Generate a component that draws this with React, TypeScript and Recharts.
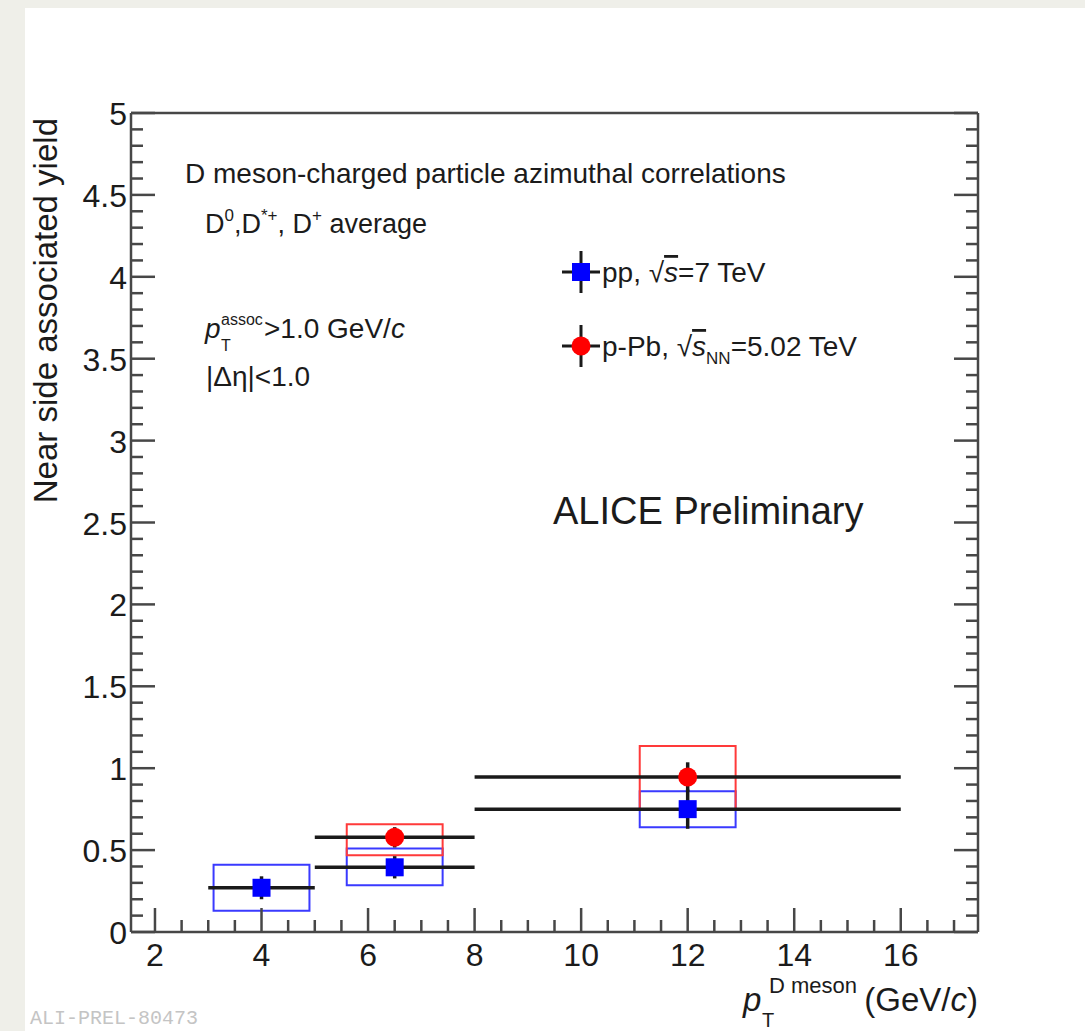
import React from "react";
import {
  ScatterChart,
  Scatter,
  XAxis,
  YAxis,
  ErrorBar,
  ReferenceArea,
  Legend,
} from "recharts";

const SERIES_NAMES = ["pp", "p-Pb"];

// pp, sqrt(s) = 7 TeV
const PP_PT = [4, 6.5, 12];
const PP_PT_HALF = [1, 1.5, 4];
const PP_YIELD = [0.27, 0.395, 0.75];
const PP_STAT = [0.07, 0.068, 0.12];
const PP_SYS_LOW = [0.14, 0.11, 0.11];
const PP_SYS_HIGH = [0.14, 0.115, 0.11];

// p-Pb, sqrt(sNN) = 5.02 TeV
const PPB_PT = [6.5, 12];
const PPB_PT_HALF = [1.5, 4];
const PPB_YIELD = [0.578, 0.946];
const PPB_STAT = [0.062, 0.09];
const PPB_SYS_LOW = [0.11, 0.195];
const PPB_SYS_HIGH = [0.08, 0.19];

const X_MAJOR_TICKS = [2, 4, 6, 8, 10, 12, 14, 16];
const Y_MAJOR_TICKS = [0, 0.5, 1, 1.5, 2, 2.5, 3, 3.5, 4, 4.5, 5];
const X_DOMAIN: [number, number] = [1.55, 17.45];
const Y_DOMAIN: [number, number] = [0, 5];

const X_MINOR_TICKS: number[] = [];
for (let i = 4; i <= 34; i++) X_MINOR_TICKS.push(i / 2);
const Y_MINOR_TICKS: number[] = [];
for (let i = 0; i <= 50; i++) Y_MINOR_TICKS.push(i / 10);

const SYS_BOX_HALF = 0.9;

const FONT = '"Liberation Sans", Arial, Helvetica, sans-serif';
const TEXT = "#1b1b1b";
const FRAME = "#474747";
const MAJOR_LEN = 24;
const MINOR_LEN = 12;
const BLUE = "#0000ff";
const RED = "#ff0000";
const BAR = "#1a1a1a";

const ppRows = PP_PT.map((x, i) => ({
  x,
  y: PP_YIELD[i],
  ex: PP_PT_HALF[i],
  ey: PP_STAT[i],
}));
const ppbRows = PPB_PT.map((x, i) => ({
  x,
  y: PPB_YIELD[i],
  ex: PPB_PT_HALF[i],
  ey: PPB_STAT[i],
}));

const isMajor = (v: number, majors: number[]) =>
  majors.some((m) => Math.abs(m - v) < 1e-6);

function BottomTick({ x, y, payload }: any) {
  const major = isMajor(payload.value, X_MAJOR_TICKS);
  return (
    <g>
      <line
        x1={x}
        x2={x}
        y1={y}
        y2={y - (major ? MAJOR_LEN : MINOR_LEN)}
        stroke={FRAME}
        strokeWidth={2.5}
      />
      {major && (
        <text x={x} y={y + 34} textAnchor="middle" fontSize={32} fill={TEXT} fontFamily={FONT}>
          {payload.value}
        </text>
      )}
    </g>
  );
}

function TopTick({ x, y, payload }: any) {
  const major = isMajor(payload.value, X_MAJOR_TICKS);
  return (
    <line
      x1={x}
      x2={x}
      y1={y}
      y2={y + (major ? MAJOR_LEN : MINOR_LEN)}
      stroke={FRAME}
      strokeWidth={2.5}
    />
  );
}

function LeftTick({ x, y, payload }: any) {
  const major = isMajor(payload.value, Y_MAJOR_TICKS);
  return (
    <g>
      <line
        x1={x}
        x2={x + (major ? MAJOR_LEN : MINOR_LEN)}
        y1={y}
        y2={y}
        stroke={FRAME}
        strokeWidth={2.5}
      />
      {major && (
        <text x={x - 4} y={y + 12} textAnchor="end" fontSize={32} fill={TEXT} fontFamily={FONT}>
          {payload.value}
        </text>
      )}
    </g>
  );
}

function RightTick({ x, y, payload }: any) {
  const major = isMajor(payload.value, Y_MAJOR_TICKS);
  return (
    <line
      x1={x}
      x2={x - (major ? MAJOR_LEN : MINOR_LEN)}
      y1={y}
      y2={y}
      stroke={FRAME}
      strokeWidth={2.5}
    />
  );
}

const Square = ({ cx, cy }: any) => (
  <rect x={cx - 9} y={cy - 9} width={18} height={18} fill={BLUE} />
);
const Dot = ({ cx, cy }: any) => <circle cx={cx} cy={cy} r={9.5} fill={RED} />;

function LegendLabel({ name }: { name: string }) {
  if (name === "pp") {
    return (
      <>
        pp, √<tspan fontStyle="italic" textDecoration="overline">s</tspan>=7 TeV
      </>
    );
  }
  return (
    <>
      p-Pb, √<tspan fontStyle="italic" textDecoration="overline">s</tspan>
      <tspan fontSize={17} dy={8}>NN</tspan>
      <tspan dy={-8}>=5.02 TeV</tspan>
    </>
  );
}

function LegendContent({ payload }: any) {
  const names: string[] = (payload || []).map((e: any) => e.value);
  const ordered = SERIES_NAMES.filter((n) => names.includes(n));
  return (
    <svg width={420} height={150} style={{ overflow: "visible" }}>
      {ordered.map((name, i) => {
        const cy = 32 + i * 74;
        const cx = 26;
        return (
          <g key={name}>
            <line x1={cx} x2={cx} y1={cy - 21} y2={cy + 21} stroke={BAR} strokeWidth={3} />
            <line x1={cx - 19} x2={cx + 19} y1={cy} y2={cy} stroke={BAR} strokeWidth={3} />
            {name === "pp" ? (
              <rect x={cx - 9} y={cy - 9} width={18} height={18} fill={BLUE} />
            ) : (
              <circle cx={cx} cy={cy} r={9.5} fill={RED} />
            )}
            <text x={47} y={cy + 10} fontSize={28} fill={TEXT} fontFamily={FONT}>
              <LegendLabel name={name} />
            </text>
          </g>
        );
      })}
    </svg>
  );
}

export default function App() {
  return (
    <div
      style={{
        position: "absolute",
        left: 0,
        top: 0,
        width: 1085,
        height: 1031,
        background: "#fff",
        overflow: "hidden",
        fontFamily: FONT,
      }}
    >
      <div style={{ position: "absolute", left: 0, top: 0, width: 1085, height: 8, background: "#efefe9" }} />
      <div style={{ position: "absolute", left: 0, top: 0, width: 25, height: 1031, background: "#efefe9" }} />

      <div style={{ position: "absolute", left: 0, top: 0 }}>
        <ScatterChart
          width={1085}
          height={1031}
          margin={{ top: 103, right: 97, bottom: 59, left: 71 }}
        >
          <XAxis
            type="number"
            dataKey="x"
            domain={X_DOMAIN}
            allowDataOverflow
            ticks={X_MINOR_TICKS}
            interval={0}
            tickSize={0}
            tickMargin={0}
            tickLine={false}
            tick={<BottomTick />}
            axisLine={{ stroke: FRAME, strokeWidth: 2.5 }}
            height={40}
          />
          <XAxis
            xAxisId="top"
            orientation="top"
            type="number"
            domain={X_DOMAIN}
            allowDataOverflow
            ticks={X_MINOR_TICKS}
            interval={0}
            tickSize={0}
            tickMargin={0}
            tickLine={false}
            tick={<TopTick />}
            axisLine={{ stroke: FRAME, strokeWidth: 2.5 }}
            height={10}
          />
          <YAxis
            type="number"
            dataKey="y"
            domain={Y_DOMAIN}
            allowDataOverflow
            ticks={Y_MINOR_TICKS}
            interval={0}
            tickSize={0}
            tickMargin={0}
            tickLine={false}
            tick={<LeftTick />}
            axisLine={{ stroke: FRAME, strokeWidth: 2.5 }}
            width={60}
          />
          <YAxis
            yAxisId="right"
            orientation="right"
            type="number"
            domain={Y_DOMAIN}
            allowDataOverflow
            ticks={Y_MINOR_TICKS}
            interval={0}
            tickSize={0}
            tickMargin={0}
            tickLine={false}
            tick={<RightTick />}
            axisLine={{ stroke: FRAME, strokeWidth: 2.5 }}
            width={10}
          />

          {PP_PT.map((x, i) => (
            <ReferenceArea
              key={`pp-sys-${i}`}
              x1={x - SYS_BOX_HALF}
              x2={x + SYS_BOX_HALF}
              y1={PP_YIELD[i] - PP_SYS_LOW[i]}
              y2={PP_YIELD[i] + PP_SYS_HIGH[i]}
              fill="none"
              fillOpacity={0}
              stroke="#3a3aff"
              strokeWidth={2}
            />
          ))}
          {PPB_PT.map((x, i) => (
            <ReferenceArea
              key={`ppb-sys-${i}`}
              x1={x - SYS_BOX_HALF}
              x2={x + SYS_BOX_HALF}
              y1={PPB_YIELD[i] - PPB_SYS_LOW[i]}
              y2={PPB_YIELD[i] + PPB_SYS_HIGH[i]}
              fill="none"
              fillOpacity={0}
              stroke="#ff3a3a"
              strokeWidth={2}
            />
          ))}

          <Scatter name={SERIES_NAMES[0]} data={ppRows} shape={<Square />} fill={BLUE} isAnimationActive={false}>
            <ErrorBar dataKey="ex" direction="x" width={0} stroke={BAR} strokeWidth={3.5} isAnimationActive={false} />
            <ErrorBar dataKey="ey" direction="y" width={0} stroke={BAR} strokeWidth={3.5} isAnimationActive={false} />
          </Scatter>
          <Scatter name={SERIES_NAMES[1]} data={ppbRows} shape={<Dot />} fill={RED} isAnimationActive={false}>
            <ErrorBar dataKey="ex" direction="x" width={0} stroke={BAR} strokeWidth={3.5} isAnimationActive={false} />
            <ErrorBar dataKey="ey" direction="y" width={0} stroke={BAR} strokeWidth={3.5} isAnimationActive={false} />
          </Scatter>

          <Legend
            layout="vertical"
            align="center"
            verticalAlign="middle"
            content={<LegendContent />}
            wrapperStyle={{ left: 555, top: 240, width: 420, height: 150 }}
          />
        </ScatterChart>
      </div>

      <svg
        width={1085}
        height={1031}
        style={{ position: "absolute", left: 0, top: 0, pointerEvents: "none" }}
        fontFamily={FONT}
        fill={TEXT}
      >
        <text x={185} y={183} fontSize={28}>
          D meson-charged particle azimuthal correlations
        </text>
        <text x={205} y={233} fontSize={27}>
          D<tspan fontSize={17} dy={-12}>0</tspan>
          <tspan dy={12}>,D</tspan>
          <tspan fontSize={17} dy={-12}>*+</tspan>
          <tspan dy={12}>, D</tspan>
          <tspan fontSize={17} dy={-12}>+</tspan>
          <tspan dy={12}> average</tspan>
        </text>

        <text x={205} y={338} fontSize={28} fontStyle="italic">p</text>
        <text x={221} y={325} fontSize={16}>assoc</text>
        <text x={221} y={351} fontSize={16}>T</text>
        <text x={264} y={338} fontSize={28}>
          &gt;1.0 GeV/<tspan fontStyle="italic">c</tspan>
        </text>
        <text x={206} y={386} fontSize={28}>|Δη|&lt;1.0</text>

        <text x={553} y={524} fontSize={38}>ALICE Preliminary</text>

        <text
          x={57}
          y={118}
          fontSize={33}
          textAnchor="end"
          transform="rotate(-90 57 118)"
        >
          Near side associated yield
        </text>

        <text x={743} y={1011} fontSize={33} fontStyle="italic">p</text>
        <text x={769} y={993} fontSize={22}>D meson</text>
        <text x={762} y={1027} fontSize={20}>T</text>
        <text x={978} y={1011} fontSize={33} textAnchor="end">
          (GeV/<tspan fontStyle="italic">c</tspan>)
        </text>

        <text x={30} y={1024} fontSize={20} fontFamily='"Liberation Mono", "DejaVu Sans Mono", monospace' fill="#c4c4c4">
          ALI-PREL-80473
        </text>
      </svg>
    </div>
  );
}
